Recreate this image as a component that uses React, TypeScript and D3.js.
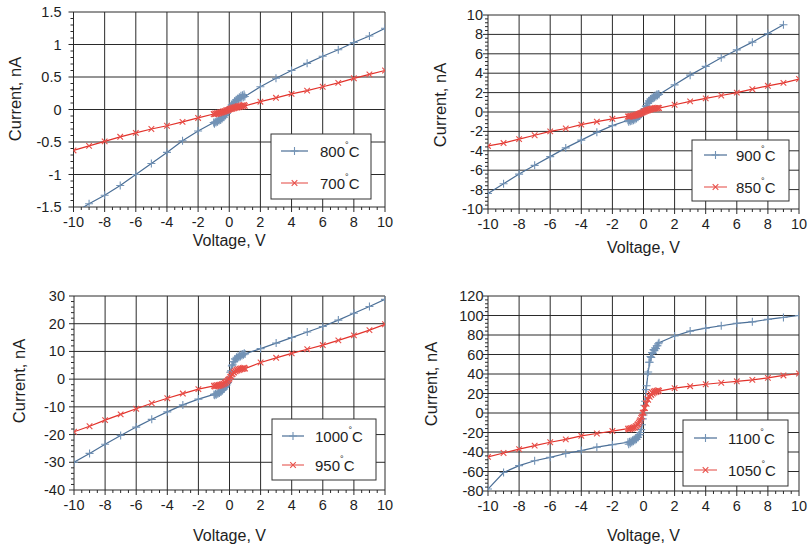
import React from "react";
import * as d3 from "d3";

const VOLTAGES = [-10, -9, -8, -7, -6, -5, -4, -3, -2, -1, -0.9, -0.8, -0.7, -0.6, -0.5, -0.4, -0.3, -0.2, -0.1, 0, 0.1, 0.2, 0.3, 0.4, 0.5, 0.6, 0.7, 0.8, 0.9, 1, 2, 3, 4, 5, 6, 7, 8, 9, 10];
const RET_VOLTAGES = [-0.95, -0.85, -0.75, -0.65, -0.55, -0.45, -0.35, -0.25, -0.15, -0.05, 0.05, 0.15, 0.25, 0.35, 0.45, 0.55, 0.65, 0.75, 0.85, 0.95];

const I_800 = [-1.6, -1.45, -1.32, -1.17, -1.0, -0.83, -0.66, -0.48, -0.33, -0.2, -0.19, -0.18, -0.16, -0.15, -0.13, -0.11, -0.08, -0.05, -0.02, 0.01, 0.04, 0.07, 0.1, 0.12, 0.14, 0.16, 0.17, 0.18, 0.19, 0.2, 0.35, 0.48, 0.6, 0.71, 0.82, 0.92, 1.03, 1.13, 1.25];
const I_700 = [-0.63, -0.56, -0.49, -0.42, -0.36, -0.3, -0.25, -0.19, -0.13, -0.07, -0.06, -0.055, -0.05, -0.045, -0.04, -0.03, -0.025, -0.015, -0.01, 0, 0.005, 0.01, 0.02, 0.025, 0.03, 0.035, 0.04, 0.045, 0.05, 0.055, 0.12, 0.18, 0.24, 0.29, 0.35, 0.41, 0.48, 0.54, 0.6];
const I_900 = [-8.4, -7.4, -6.4, -5.5, -4.6, -3.7, -2.9, -2.1, -1.4, -0.85, -0.82, -0.78, -0.73, -0.68, -0.6, -0.5, -0.38, -0.24, -0.1, 0.1, 0.35, 0.65, 0.9, 1.1, 1.25, 1.4, 1.5, 1.6, 1.7, 1.8, 2.8, 3.8, 4.7, 5.6, 6.4, 7.2, 8.1, 9.0, null];
const I_850 = [-3.5, -3.2, -2.8, -2.4, -2.0, -1.7, -1.3, -1.0, -0.7, -0.45, -0.43, -0.4, -0.37, -0.34, -0.3, -0.25, -0.2, -0.13, -0.06, 0, 0.06, 0.12, 0.18, 0.23, 0.27, 0.3, 0.33, 0.36, 0.38, 0.4, 0.75, 1.1, 1.4, 1.7, 2.0, 2.35, 2.7, 3.0, 3.4];
const I_1000 = [-30, -26.8, -23.5, -20.3, -17.3, -14.5, -11.8, -9.3, -7.2, -5.5, -5.3, -5.1, -4.8, -4.5, -4.1, -3.6, -3.0, -2.2, -1.2, 0.5, 3, 5.2, 6.3, 7.0, 7.5, 7.9, 8.2, 8.5, 8.8, 9.1, 11, 13, 15, 17, 19, 21.3, 23.8, 26.2, 28.8];
const I_950 = [-19, -17, -14.8, -12.7, -10.7, -8.7, -6.9, -5.2, -3.6, -2.4, -2.3, -2.2, -2.1, -2.0, -1.8, -1.6, -1.3, -0.9, -0.4, 0.2, 1.0, 1.8, 2.4, 2.8, 3.1, 3.3, 3.5, 3.6, 3.7, 3.8, 6, 7.7, 9.3, 10.8, 12.3, 14, 15.8, 17.7, 19.8];
const I_1100 = [-78, -61, -54, -49, -45.5, -41.5, -38.5, -35, -32.5, -30, -29.5, -29, -28, -27, -26, -24.5, -22.5, -20, -12, -2, 12, 28, 42, 52, 57, 61, 64, 66, 69, 72, 79, 84, 87, 89.5, 92, 93.5, 96, 98, 100];
const I_1050 = [-45, -41, -37, -33.5, -30, -27, -23.5, -21, -18.5, -16, -15.8, -15.5, -15, -14.5, -13.5, -12, -10, -7, -3.5, 0.5, 5, 9.5, 13.5, 16.5, 18.5, 20, 21, 21.5, 22, 22.5, 25.5, 27.5, 29.5, 31, 32.5, 34, 36, 38.5, 40.5];

// return sweeps between -1 V and 1 V (markers only)
const I_800_RET = [-0.22, -0.2, -0.19, -0.17, -0.16, -0.14, -0.12, -0.09, -0.06, -0.03, 0.03, 0.07, 0.1, 0.13, 0.15, 0.17, 0.19, 0.21, 0.22, 0.23];
const I_700_RET = [-0.075, -0.07, -0.065, -0.06, -0.05, -0.045, -0.035, -0.025, -0.015, -0.005, 0.01, 0.02, 0.03, 0.035, 0.045, 0.05, 0.055, 0.06, 0.065, 0.07];
const I_900_RET = [-1.0, -0.95, -0.9, -0.85, -0.78, -0.68, -0.55, -0.4, -0.22, -0.05, 0.3, 0.6, 0.9, 1.15, 1.35, 1.5, 1.6, 1.7, 1.8, 1.85];
const I_850_RET = [-0.5, -0.48, -0.45, -0.42, -0.38, -0.33, -0.27, -0.2, -0.12, -0.04, 0.05, 0.13, 0.2, 0.26, 0.31, 0.35, 0.38, 0.41, 0.43, 0.45];
const I_1000_RET = [-5.8, -5.6, -5.3, -5.0, -4.6, -4.1, -3.5, -2.7, -1.6, -0.2, 2.5, 4.8, 6.3, 7.3, 7.9, 8.3, 8.6, 8.9, 9.1, 9.3];
const I_950_RET = [-2.7, -2.6, -2.5, -2.4, -2.2, -2.0, -1.7, -1.3, -0.8, -0.1, 0.8, 1.7, 2.5, 3.0, 3.4, 3.6, 3.8, 3.9, 4.0, 4.1];
const I_1100_RET = [-32, -31, -30, -29, -28, -27, -25, -22, -17, -6, 8, 24, 40, 52, 58, 62, 65, 67, 69, 71];
const I_1050_RET = [-17, -16.5, -16, -15.5, -15, -13.5, -11.5, -8.5, -5, 0, 5, 10, 14.5, 17.5, 19.5, 21, 22, 22.5, 23, 23.5];

const X_TICKS = [-10, -8, -6, -4, -2, 0, 2, 4, 6, 8, 10];
const Y_TICKS_1 = [-1.5, -1, -0.5, 0, 0.5, 1, 1.5];
const Y_TICKS_2 = [-10, -8, -6, -4, -2, 0, 2, 4, 6, 8, 10];
const Y_TICKS_3 = [-40, -30, -20, -10, 0, 10, 20, 30];
const Y_TICKS_4 = [-80, -60, -40, -20, 0, 20, 40, 60, 80, 100, 120];

const LABELS = [["800", "700"], ["900", "850"], ["1000", "950"], ["1100", "1050"]];
const SERIES = [[I_800, I_700], [I_900, I_850], [I_1000, I_950], [I_1100, I_1050]];
const RET_SERIES = [[I_800_RET, I_700_RET], [I_900_RET, I_850_RET], [I_1000_RET, I_950_RET], [I_1100_RET, I_1050_RET]];
const YTICKS = [Y_TICKS_1, Y_TICKS_2, Y_TICKS_3, Y_TICKS_4];

const LAYOUT = [
  { l: 73.5, t: 12, r: 385, b: 207, ylabGap: 12, ytx: 15, yty: 99, xtitle: 39, leg: { x: 271, y: 134, w: 100, h: 65, r1: 17, r2: 49, s0: 10, s1: 37, tx: 49 } },
  { l: 488, t: 15, r: 799, b: 209, ylabGap: 5, ytx: 440, yty: 105, xtitle: 44, leg: { x: 692, y: 140, w: 97, h: 61, r1: 15, r2: 47, s0: 12, s1: 35, tx: 44 } },
  { l: 74, t: 296, r: 385, b: 490, ylabGap: 9, ytx: 19, yty: 381, xtitle: 51, leg: { x: 272, y: 419, w: 104, h: 61, r1: 17, r2: 46, s0: 10, s1: 32, tx: 43 } },
  { l: 488, t: 296, r: 799, b: 491, ylabGap: 4.5, ytx: 431, yty: 384, xtitle: 50, leg: { x: 683, y: 420, w: 105, h: 66, r1: 18, r2: 50, s0: 11, s1: 34, tx: 45 } },
];

const BLUE = "#4b6f97";
const BLUE_M = "#7393b6";
const RED = "#e2322b";
const RED_M = "#e8504a";
const GRID = "#2a2a2a";
const TEXT = "#1e1e1e";
const FONT = "'Liberation Sans', Arial, sans-serif";

function Plus({ x, y, s, c }: any) {
  return <path d={`M${x - s},${y}H${x + s}M${x},${y - s}V${y + s}`} stroke={c} strokeWidth={1.1} fill="none" />;
}
function Cross({ x, y, s, c }: any) {
  return <path d={`M${x - s},${y - s}L${x + s},${y + s}M${x - s},${y + s}L${x + s},${y - s}`} stroke={c} strokeWidth={1.1} fill="none" />;
}

function LegendLabel({ x, y, t }: any) {
  return (
    <text x={x} y={y} fontSize={15} fontFamily={FONT} fill={TEXT} dominantBaseline="central">
      {t}
      <tspan fontSize={9} dy={-6}>°</tspan>
      <tspan dy={6}>C</tspan>
    </text>
  );
}

function Panel({ idx }: { idx: number }) {
  const L = LAYOUT[idx];
  const yt = YTICKS[idx];
  const x = d3.scaleLinear().domain([-10, 10]).range([L.l, L.r]);
  const y = d3.scaleLinear().domain([yt[0], yt[yt.length - 1]]).range([L.b, L.t]);
  const yStep = yt[1] - yt[0];
  const xMinor: number[] = [];
  for (let i = 0; i < X_TICKS.length - 1; i++) for (let k = 1; k < 4; k++) xMinor.push(X_TICKS[i] + (k * 2) / 4);
  const yMinor: number[] = [];
  for (let i = 0; i < yt.length - 1; i++) for (let k = 1; k < 5; k++) yMinor.push(yt[i] + (k * yStep) / 5);
  const clipId = `clip${idx}`;
  const [blue, red] = SERIES[idx];
  const [blueR, redR] = RET_SERIES[idx];
  const pts = (vs: number[], arr: (number | null)[]) =>
    vs.map((v, i) => [v, arr[i]] as [number, number | null]).filter((p) => p[1] !== null) as [number, number][];
  const line = d3.line<[number, number]>().x((d) => x(d[0])).y((d) => y(d[1]));
  const bp = pts(VOLTAGES, blue);
  const rp = pts(VOLTAGES, red);
  const bpr = pts(RET_VOLTAGES, blueR);
  const rpr = pts(RET_VOLTAGES, redR);
  const lg = L.leg;
  return (
    <g>
      <defs>
        <clipPath id={clipId}>
          <rect x={L.l} y={L.t} width={L.r - L.l} height={L.b - L.t} />
        </clipPath>
      </defs>
      <rect x={L.l} y={L.t} width={L.r - L.l} height={L.b - L.t} fill="#fff" />
      {X_TICKS.map((v) => (
        <line key={"gx" + v} x1={x(v)} x2={x(v)} y1={L.t} y2={L.b + 5} stroke={GRID} strokeWidth={1} />
      ))}
      {yt.map((v) => (
        <line key={"gy" + v} x1={L.l - 5} x2={L.r} y1={y(v)} y2={y(v)} stroke={GRID} strokeWidth={1} />
      ))}
      {xMinor.map((v) => (
        <line key={"mx" + v} x1={x(v)} x2={x(v)} y1={L.b} y2={L.b + 3} stroke={GRID} strokeWidth={1} />
      ))}
      {yMinor.map((v) => (
        <line key={"my" + v} x1={L.l - 3} x2={L.l} y1={y(v)} y2={y(v)} stroke={GRID} strokeWidth={1} />
      ))}
      <g clipPath={`url(#${clipId})`}>
        <path d={line(bp) || ""} fill="none" stroke={BLUE} strokeWidth={1.2} />
        {bp.map((p, i) => (
          <Plus key={"b" + i} x={x(p[0])} y={y(p[1])} s={4} c={BLUE_M} />
        ))}
        {bpr.map((p, i) => (
          <Plus key={"br" + i} x={x(p[0])} y={y(p[1])} s={4} c={BLUE_M} />
        ))}
        <path d={line(rp) || ""} fill="none" stroke={RED} strokeWidth={1.2} />
        {rp.map((p, i) => (
          <Cross key={"r" + i} x={x(p[0])} y={y(p[1])} s={2.8} c={RED_M} />
        ))}
        {rpr.map((p, i) => (
          <Cross key={"rr" + i} x={x(p[0])} y={y(p[1])} s={2.8} c={RED_M} />
        ))}
      </g>
      {X_TICKS.map((v) => (
        <text key={"tx" + v} x={x(v)} y={L.b + 20} textAnchor="middle" fontSize={14.5} fontFamily={FONT} fill={TEXT}>
          {v}
        </text>
      ))}
      {yt.map((v) => (
        <text key={"ty" + v} x={L.l - L.ylabGap} y={y(v)} textAnchor="end" dominantBaseline="central" fontSize={14.5} fontFamily={FONT} fill={TEXT}>
          {v}
        </text>
      ))}
      <text x={(L.l + L.r) / 2} y={L.b + L.xtitle} textAnchor="middle" fontSize={16} fontFamily={FONT} fill={TEXT}>
        Voltage, V
      </text>
      <text transform={`translate(${L.ytx},${L.yty}) rotate(-90)`} textAnchor="middle" dominantBaseline="central" fontSize={16.5} fontFamily={FONT} fill={TEXT}>
        Current, nA
      </text>
      <rect x={lg.x} y={lg.y} width={lg.w} height={lg.h} fill="#fff" stroke="#333" strokeWidth={1} />
      <line x1={lg.x + lg.s0} x2={lg.x + lg.s1} y1={lg.y + lg.r1} y2={lg.y + lg.r1} stroke={BLUE} strokeWidth={1.2} />
      <Plus x={lg.x + (lg.s0 + lg.s1) / 2} y={lg.y + lg.r1} s={4} c={BLUE_M} />
      <line x1={lg.x + lg.s0} x2={lg.x + lg.s1} y1={lg.y + lg.r2} y2={lg.y + lg.r2} stroke={RED} strokeWidth={1.2} opacity={0.75} />
      <Cross x={lg.x + (lg.s0 + lg.s1) / 2} y={lg.y + lg.r2} s={2.8} c={RED_M} />
      <LegendLabel x={lg.x + lg.tx} y={lg.y + lg.r1} t={LABELS[idx][0]} />
      <LegendLabel x={lg.x + lg.tx} y={lg.y + lg.r2} t={LABELS[idx][1]} />
    </g>
  );
}

export default function App() {
  return (
    <svg width={811} height={550} style={{ position: "absolute", left: 0, top: 0, background: "#fff" }}>
      <rect width={811} height={550} fill="#fff" />
      {[0, 1, 2, 3].map((i) => (
        <Panel key={i} idx={i} />
      ))}
    </svg>
  );
}
